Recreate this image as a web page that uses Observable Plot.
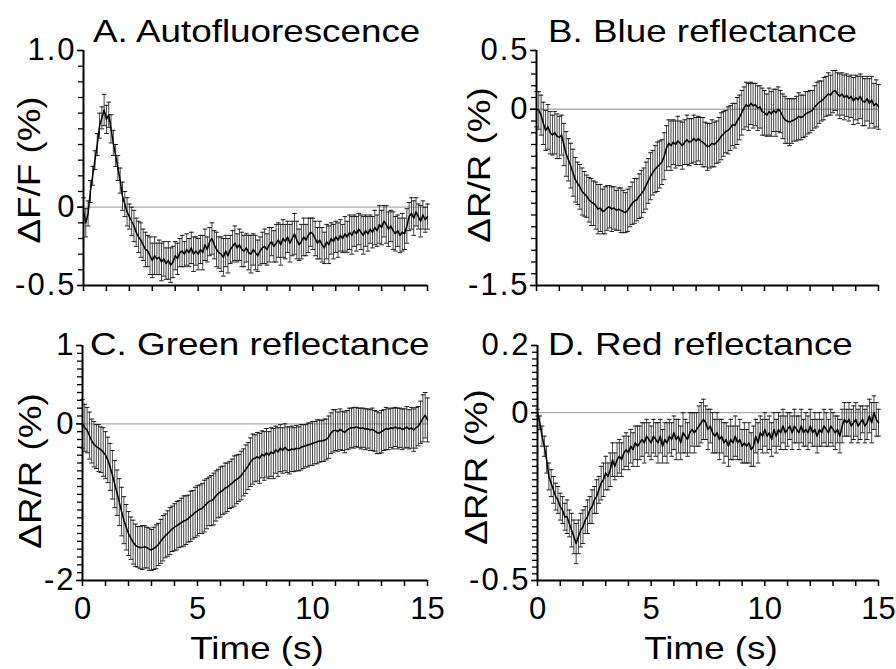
<!DOCTYPE html>
<html><head><meta charset="utf-8">
<script src="https://cdn.jsdelivr.net/npm/d3@7"></script>
<script src="https://cdn.jsdelivr.net/npm/@observablehq/plot@0.6"></script>
<style>
html,body{margin:0;padding:0;background:#fff;}
#chart{position:relative;width:896px;height:669px;overflow:hidden;font-family:"Liberation Sans",Arial,Helvetica,sans-serif;color:#000;}
.panel{position:absolute;}
.panel svg text{font-size:31px;}
.panel svg g[aria-label="y-axis tick label"] text{letter-spacing:2px;}
.title{position:absolute;font-size:32px;line-height:1;white-space:nowrap;transform-origin:0 0;transform:scaleX(1.15);}
.ylab{position:absolute;font-size:32px;line-height:1;white-space:nowrap;transform:translate(-50%,-50%) rotate(-90deg) scaleX(1.15);}
.xlab{position:absolute;font-size:32px;line-height:1;white-space:nowrap;transform:translate(-50%,0) scaleX(1.15);}
</style>
</head><body>
<div id="chart"></div>
<script>
// ---------- data (0.1 s sampling, 0–15 s) ----------
const time = d3.range(151).map(i => +(i * 0.1).toFixed(1));

const panelTitles = ["A. Autofluorescence", "B. Blue reflectance", "C. Green reflectance", "D. Red reflectance"];
const yLabels = ["ΔF/F (%)", "ΔR/R (%)", "ΔR/R (%)", "ΔR/R (%)"];
const xLabel = "Time (s)";
const xTickLabels = [0, 5, 10, 15];

const yTicksA = [1.0, 0, -0.5], yTickLabelsA = ["1.0", "0", "-0.5"];
const yTicksB = [0.5, 0, -1.5], yTickLabelsB = ["0.5", "0", "-1.5"];
const yTicksC = [1, 0, -2], yTickLabelsC = ["1", "0", "-2"];
const yTicksD = [0.2, 0, -0.5], yTickLabelsD = ["0.2", "0", "-0.5"];

const afMean = [
 -0.02,-0.10,-0.04,0.10,0.20,0.30,0.40,0.52,0.57,0.62,
 0.56,0.59,0.50,0.41,0.33,0.25,0.17,0.07,0.02,-0.03,
 -0.06,-0.09,-0.12,-0.16,-0.19,-0.21,-0.24,-0.27,-0.28,-0.31,
 -0.34,-0.31,-0.33,-0.32,-0.35,-0.33,-0.36,-0.34,-0.37,-0.35,
 -0.31,-0.33,-0.29,-0.28,-0.30,-0.27,-0.29,-0.26,-0.30,-0.28,
 -0.30,-0.27,-0.29,-0.24,-0.27,-0.22,-0.20,-0.24,-0.27,-0.29,
 -0.30,-0.32,-0.28,-0.31,-0.27,-0.25,-0.23,-0.26,-0.24,-0.27,
 -0.28,-0.26,-0.29,-0.30,-0.27,-0.29,-0.31,-0.28,-0.26,-0.25,
 -0.27,-0.24,-0.22,-0.25,-0.23,-0.21,-0.24,-0.20,-0.22,-0.19,
 -0.23,-0.20,-0.17,-0.21,-0.24,-0.22,-0.19,-0.21,-0.18,-0.16,
 -0.17,-0.20,-0.23,-0.21,-0.24,-0.26,-0.22,-0.24,-0.20,-0.22,
 -0.19,-0.21,-0.18,-0.20,-0.17,-0.19,-0.16,-0.18,-0.15,-0.17,
 -0.14,-0.16,-0.18,-0.15,-0.17,-0.14,-0.16,-0.13,-0.15,-0.11,
 -0.13,-0.09,-0.11,-0.14,-0.12,-0.15,-0.17,-0.15,-0.18,-0.16,
 -0.17,-0.12,-0.06,-0.04,-0.07,-0.03,-0.06,-0.09,-0.05,-0.08,
 -0.06];
const afErr = [
 0.08,0.09,0.08,0.07,0.06,0.06,0.07,0.08,0.07,0.10,
 0.09,0.08,0.09,0.08,0.07,0.08,0.08,0.09,0.08,0.09,
 0.08,0.09,0.10,0.09,0.10,0.11,0.10,0.11,0.10,0.12,
 0.11,0.12,0.10,0.11,0.12,0.11,0.10,0.12,0.11,0.10,
 0.09,0.10,0.09,0.10,0.08,0.10,0.09,0.10,0.11,0.09,
 0.10,0.09,0.11,0.10,0.08,0.09,0.10,0.09,0.11,0.10,
 0.11,0.12,0.10,0.11,0.09,0.10,0.11,0.09,0.10,0.11,
 0.10,0.09,0.11,0.12,0.10,0.11,0.10,0.09,0.10,0.11,
 0.10,0.11,0.09,0.10,0.12,0.11,0.13,0.12,0.11,0.10,
 0.12,0.11,0.13,0.12,0.10,0.11,0.12,0.10,0.11,0.09,
 0.10,0.11,0.10,0.12,0.11,0.10,0.11,0.12,0.10,0.11,
 0.10,0.11,0.10,0.09,0.11,0.10,0.11,0.12,0.10,0.11,
 0.10,0.11,0.12,0.10,0.11,0.09,0.10,0.11,0.10,0.12,
 0.11,0.10,0.12,0.11,0.10,0.12,0.11,0.10,0.11,0.12,
 0.10,0.11,0.09,0.10,0.11,0.09,0.08,0.10,0.09,0.08,
 0.08];

const blueMean = [
 0.00,-0.01,-0.05,-0.12,-0.18,-0.15,-0.20,-0.22,-0.20,-0.23,
 -0.24,-0.22,-0.30,-0.38,-0.43,-0.48,-0.54,-0.60,-0.63,-0.66,
 -0.70,-0.72,-0.74,-0.77,-0.79,-0.80,-0.82,-0.85,-0.84,-0.87,
 -0.86,-0.84,-0.83,-0.85,-0.84,-0.86,-0.85,-0.86,-0.87,-0.88,
 -0.86,-0.83,-0.80,-0.78,-0.77,-0.74,-0.72,-0.69,-0.65,-0.61,
 -0.57,-0.54,-0.51,-0.49,-0.47,-0.45,-0.40,-0.33,-0.29,-0.31,
 -0.28,-0.30,-0.27,-0.29,-0.31,-0.28,-0.26,-0.28,-0.27,-0.25,
 -0.27,-0.25,-0.27,-0.28,-0.30,-0.32,-0.31,-0.29,-0.30,-0.28,
 -0.26,-0.23,-0.21,-0.19,-0.18,-0.16,-0.13,-0.14,-0.10,-0.07,
 -0.03,0.01,0.04,0.02,0.05,0.03,0.04,0.01,0.02,-0.02,
 -0.03,-0.05,-0.02,-0.04,-0.01,-0.03,0.00,-0.02,-0.06,-0.09,
 -0.10,-0.11,-0.10,-0.09,-0.08,-0.06,-0.07,-0.06,-0.04,-0.03,
 -0.02,-0.01,0.02,0.04,0.06,0.07,0.09,0.11,0.13,0.12,
 0.15,0.16,0.13,0.11,0.13,0.10,0.12,0.09,0.11,0.07,
 0.10,0.08,0.11,0.07,0.06,0.09,0.05,0.08,0.03,0.05,
 0.02];
const blueErr = [
 0.15,0.16,0.17,0.18,0.17,0.19,0.18,0.17,0.18,0.19,
 0.18,0.17,0.18,0.19,0.18,0.19,0.20,0.19,0.18,0.19,
 0.20,0.19,0.18,0.19,0.20,0.19,0.20,0.21,0.20,0.19,
 0.20,0.19,0.18,0.19,0.18,0.17,0.18,0.19,0.18,0.17,
 0.18,0.17,0.18,0.19,0.18,0.19,0.20,0.19,0.20,0.19,
 0.20,0.19,0.20,0.21,0.20,0.19,0.20,0.19,0.20,0.21,
 0.19,0.20,0.21,0.19,0.20,0.19,0.21,0.20,0.19,0.20,
 0.20,0.19,0.20,0.21,0.19,0.20,0.19,0.20,0.19,0.18,
 0.19,0.20,0.19,0.18,0.20,0.19,0.18,0.19,0.20,0.19,
 0.19,0.18,0.19,0.20,0.18,0.19,0.18,0.19,0.18,0.20,
 0.19,0.18,0.20,0.19,0.18,0.20,0.19,0.18,0.19,0.20,
 0.19,0.20,0.19,0.18,0.19,0.20,0.19,0.18,0.19,0.18,
 0.18,0.17,0.18,0.19,0.18,0.17,0.18,0.17,0.18,0.17,
 0.18,0.17,0.18,0.19,0.18,0.19,0.18,0.19,0.18,0.20,
 0.19,0.20,0.19,0.21,0.20,0.19,0.21,0.20,0.19,0.20,
 0.19];

const greenMean = [
 0.00,-0.05,-0.08,-0.15,-0.22,-0.26,-0.29,-0.31,-0.33,-0.36,
 -0.40,-0.46,-0.55,-0.65,-0.77,-0.88,-1.00,-1.12,-1.23,-1.32,
 -1.40,-1.46,-1.51,-1.55,-1.57,-1.58,-1.58,-1.57,-1.58,-1.60,
 -1.61,-1.59,-1.57,-1.54,-1.50,-1.46,-1.43,-1.40,-1.37,-1.34,
 -1.32,-1.30,-1.28,-1.26,-1.24,-1.23,-1.21,-1.18,-1.16,-1.13,
 -1.11,-1.09,-1.08,-1.05,-1.02,-0.99,-0.98,-0.96,-0.92,-0.89,
 -0.87,-0.85,-0.82,-0.81,-0.78,-0.76,-0.73,-0.71,-0.69,-0.66,
 -0.62,-0.58,-0.54,-0.49,-0.45,-0.44,-0.42,-0.44,-0.39,-0.41,
 -0.37,-0.40,-0.36,-0.38,-0.33,-0.36,-0.31,-0.34,-0.30,-0.33,
 -0.34,-0.32,-0.33,-0.31,-0.32,-0.30,-0.29,-0.28,-0.27,-0.26,
 -0.25,-0.24,-0.23,-0.22,-0.22,-0.21,-0.20,-0.17,-0.12,-0.09,
 -0.08,-0.10,-0.07,-0.09,-0.11,-0.08,-0.06,-0.05,-0.05,-0.04,
 -0.05,-0.06,-0.05,-0.07,-0.06,-0.08,-0.07,-0.09,-0.11,-0.12,
 -0.10,-0.08,-0.06,-0.07,-0.05,-0.06,-0.04,-0.06,-0.05,-0.07,
 -0.06,-0.04,-0.07,-0.05,-0.08,-0.05,-0.03,0.02,0.07,0.11,
 0.05];
const greenErr = [
 0.31,0.30,0.29,0.30,0.28,0.29,0.28,0.30,0.29,0.31,
 0.30,0.29,0.30,0.31,0.30,0.29,0.30,0.31,0.30,0.29,
 0.28,0.27,0.28,0.27,0.26,0.27,0.28,0.27,0.26,0.27,
 0.26,0.27,0.28,0.27,0.28,0.29,0.28,0.29,0.30,0.29,
 0.30,0.31,0.30,0.31,0.32,0.31,0.30,0.32,0.31,0.32,
 0.32,0.31,0.32,0.33,0.32,0.31,0.32,0.33,0.32,0.31,
 0.32,0.31,0.32,0.31,0.30,0.31,0.32,0.31,0.30,0.31,
 0.30,0.31,0.30,0.31,0.32,0.30,0.31,0.32,0.30,0.31,
 0.31,0.30,0.31,0.32,0.30,0.31,0.30,0.29,0.30,0.29,
 0.30,0.29,0.28,0.29,0.28,0.29,0.28,0.27,0.28,0.27,
 0.28,0.27,0.28,0.27,0.26,0.27,0.26,0.27,0.26,0.27,
 0.26,0.25,0.26,0.25,0.26,0.25,0.26,0.25,0.26,0.25,
 0.25,0.26,0.25,0.26,0.25,0.26,0.27,0.26,0.27,0.26,
 0.27,0.26,0.27,0.26,0.25,0.26,0.25,0.26,0.25,0.26,
 0.25,0.26,0.25,0.26,0.27,0.26,0.25,0.27,0.30,0.29,
 0.28];

const redMean = [
 0.00,-0.03,-0.07,-0.10,-0.14,-0.19,-0.21,-0.23,-0.25,-0.26,
 -0.28,-0.29,-0.31,-0.31,-0.33,-0.35,-0.37,-0.39,-0.37,-0.35,
 -0.34,-0.32,-0.31,-0.29,-0.28,-0.26,-0.25,-0.23,-0.21,-0.20,
 -0.18,-0.19,-0.17,-0.14,-0.16,-0.14,-0.13,-0.14,-0.12,-0.11,
 -0.12,-0.10,-0.11,-0.09,-0.10,-0.09,-0.08,-0.09,-0.07,-0.08,
 -0.09,-0.07,-0.08,-0.09,-0.07,-0.10,-0.08,-0.09,-0.07,-0.08,
 -0.06,-0.08,-0.07,-0.09,-0.06,-0.07,-0.08,-0.06,-0.05,-0.06,
 -0.05,-0.04,-0.03,-0.02,-0.03,-0.05,-0.04,-0.06,-0.07,-0.06,
 -0.08,-0.07,-0.09,-0.08,-0.10,-0.08,-0.09,-0.07,-0.09,-0.08,
 -0.10,-0.09,-0.10,-0.09,-0.11,-0.10,-0.07,-0.09,-0.06,-0.07,
 -0.05,-0.07,-0.06,-0.08,-0.05,-0.07,-0.05,-0.06,-0.04,-0.06,
 -0.05,-0.04,-0.06,-0.04,-0.05,-0.06,-0.04,-0.06,-0.05,-0.06,
 -0.04,-0.06,-0.05,-0.07,-0.05,-0.06,-0.04,-0.05,-0.06,-0.04,
 -0.05,-0.06,-0.05,-0.07,-0.04,-0.02,-0.03,-0.02,-0.04,-0.03,
 -0.02,-0.04,-0.03,-0.02,-0.04,-0.03,-0.01,-0.03,0.00,-0.02,
 -0.03];
const redErr = [
 0.01,0.02,0.03,0.03,0.04,0.04,0.04,0.04,0.04,0.04,
 0.04,0.04,0.04,0.05,0.04,0.05,0.05,0.06,0.05,0.05,
 0.05,0.04,0.05,0.04,0.05,0.04,0.05,0.04,0.05,0.05,
 0.05,0.04,0.05,0.05,0.04,0.05,0.05,0.05,0.05,0.05,
 0.05,0.05,0.05,0.05,0.06,0.05,0.05,0.06,0.05,0.05,
 0.05,0.05,0.05,0.06,0.05,0.05,0.05,0.06,0.05,0.05,
 0.05,0.06,0.05,0.05,0.06,0.05,0.05,0.06,0.05,0.06,
 0.05,0.06,0.06,0.06,0.05,0.06,0.05,0.06,0.05,0.06,
 0.06,0.05,0.06,0.05,0.06,0.06,0.05,0.06,0.05,0.06,
 0.05,0.06,0.05,0.06,0.05,0.06,0.05,0.06,0.05,0.05,
 0.05,0.05,0.05,0.05,0.05,0.05,0.05,0.05,0.05,0.05,
 0.05,0.04,0.05,0.05,0.04,0.05,0.05,0.04,0.05,0.05,
 0.05,0.04,0.05,0.05,0.05,0.04,0.05,0.05,0.04,0.05,
 0.05,0.05,0.04,0.05,0.05,0.05,0.04,0.05,0.05,0.05,
 0.05,0.05,0.05,0.04,0.05,0.05,0.05,0.06,0.05,0.05,
 0.04];

// ---------- drawing ----------
const FONT = '"Liberation Sans", Arial, Helvetica, sans-serif';
const chart = document.getElementById("chart");

function makePanel(cfg) {
  const data = time.map((t, i) => ({t, m: cfg.mean[i], lo: cfg.mean[i] - cfg.err[i], hi: cfg.mean[i] + cfg.err[i]}));
  const [y0, y1] = cfg.yDomain;
  const minor = d3.ticks(y0, y1, cfg.minorCount);
  const labelOf = new Map(cfg.yTicks.map((v, i) => [v, cfg.yTickLabels[i]]));
  const plot = Plot.plot({
    width: cfg.width, height: cfg.height,
    marginLeft: cfg.ml, marginRight: cfg.mr, marginTop: cfg.mt, marginBottom: cfg.mb,
    x: {domain: [0, 15], axis: null},
    y: {domain: [y0, y1], axis: null},
    style: {background: "transparent", fontFamily: FONT, fontSize: "31px", overflow: "visible", color: "#000"},
    marks: [
      Plot.ruleY([0], {stroke: "#ababab", strokeWidth: 1.4}),
      Plot.ruleX(data, {x: "t", y1: "lo", y2: "hi", stroke: "#3c3c3c", strokeWidth: 0.95}),
      Plot.link(data, {x1: d => d.t - 0.1, x2: d => d.t + 0.1, y1: "hi", y2: "hi", stroke: "#1a1a1a", strokeWidth: 1}),
      Plot.link(data, {x1: d => d.t - 0.1, x2: d => d.t + 0.1, y1: "lo", y2: "lo", stroke: "#1a1a1a", strokeWidth: 1}),
      Plot.line(data, {x: "t", y: "m", stroke: "#000", strokeWidth: 1.5}),
      Plot.ruleX([0], {stroke: "#000", strokeWidth: 2}),
      Plot.ruleY([y0], {stroke: "#000", strokeWidth: 2}),
      Plot.axisY({ticks: minor, tickSize: 5, tickFormat: () => "", label: null, strokeWidth: 1.3}),
      Plot.axisY({ticks: cfg.yTicks, tickSize: 6, tickPadding: 1, tickFormat: v => labelOf.get(v), label: null, fontSize: 31, strokeWidth: 1.5}),
      Plot.axisX({ticks: d3.range(0, 16), tickSize: 6, tickPadding: 10, label: null, fontSize: 31, strokeWidth: 1.5,
        tickFormat: v => (cfg.showX && xTickLabels.includes(v)) ? String(v) : ""})
    ]
  });
  const wrap = document.createElement("div");
  wrap.className = "panel";
  wrap.style.left = cfg.left + "px";
  wrap.style.top = cfg.top + "px";
  wrap.appendChild(plot);
  chart.appendChild(wrap);
}

function addText(cls, text, x, y) {
  const d = document.createElement("div");
  d.className = cls;
  d.textContent = text;
  d.style.left = x + "px";
  d.style.top = y + "px";
  chart.appendChild(d);
}

makePanel({mean: afMean, err: afErr, yDomain: [-0.5, 1.0], minorCount: 15, yTicks: yTicksA, yTickLabels: yTickLabelsA,
  left: 0, top: 0, width: 448, height: 300, ml: 83, mr: 21, mt: 50, mb: 15, showX: false});
makePanel({mean: blueMean, err: blueErr, yDomain: [-1.5, 0.5], minorCount: 20, yTicks: yTicksB, yTickLabels: yTickLabelsB,
  left: 448, top: 0, width: 448, height: 300, ml: 88, mr: 18, mt: 50, mb: 15, showX: false});
makePanel({mean: greenMean, err: greenErr, yDomain: [-2, 1], minorCount: 30, yTicks: yTicksC, yTickLabels: yTickLabelsC,
  left: 0, top: 300, width: 448, height: 369, ml: 82, mr: 21, mt: 45, mb: 89, showX: true});
makePanel({mean: redMean, err: redErr, yDomain: [-0.5, 0.2], minorCount: 35, yTicks: yTicksD, yTickLabels: yTickLabelsD,
  left: 448, top: 300, width: 448, height: 369, ml: 89, mr: 18, mt: 45, mb: 89, showX: true});

addText("title", panelTitles[0], 93, 15);
addText("title", panelTitles[1], 548, 15);
addText("title", panelTitles[2], 90, 328);
addText("title", panelTitles[3], 548, 328);

addText("ylab", yLabels[0], 29, 170);
addText("ylab", yLabels[1], 479, 165);
addText("ylab", yLabels[2], 30, 471);
addText("ylab", yLabels[3], 476, 467);

addText("xlab", xLabel, 257, 632);
addText("xlab", xLabel, 711, 632);
</script>
</body></html>
